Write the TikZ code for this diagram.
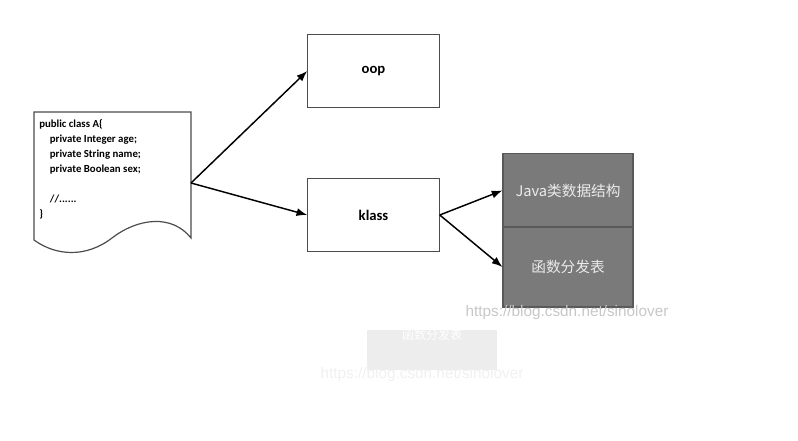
\documentclass[tikz,border=0pt]{standalone}
\usepackage{fontspec}
\setmainfont{Carlito}
\newfontfamily\cjkfont{Noto Sans CJK SC}
\newfontfamily\markfont{Liberation Sans}
\usetikzlibrary{arrows, arrows.meta}
\usetikzlibrary{calc}

\begin{document}
\begin{tikzpicture}[x=0.75pt, y=-0.75pt,
    box/.style={draw=black!70, line width=0.9pt, fill=white, minimum width=98.5pt, minimum height=55pt, inner sep=0pt, font=\fontsize{11}{13}\selectfont\bfseries},
    datatable/.style={draw=black!65, fill=black!52, line width=0.9pt, minimum width=97.5pt, inner sep=0pt, text=black!8, font=\cjkfont\fontsize{11}{13}\selectfont},
    link/.style={-{Latex[length=8pt, width=6pt]}, line width=1.1pt},
    watermark/.style={text=black!22, font=\markfont\fontsize{11.5}{13}\selectfont, inner sep=0pt}]
    \useasboundingbox (0,0) rectangle (798,441);

    % source code sheet
    \draw[black!70, line width=0.9pt, fill=white] (34,112) -- (191,112) -- (191,238)
        .. controls (172,214) and (138,218) .. (112,238)
        .. controls (86,258) and (56,256) .. (34,240) -- cycle;
    \node[anchor=north west, align=left, inner sep=0pt, font=\fontsize{8.1}{11.3}\selectfont\bfseries] (code) at (39,119)
        {public class A\{\\
        \hspace*{8pt}private Integer age;\\
        \hspace*{8pt}private String name;\\
        \hspace*{8pt}private Boolean sex;\\[11.3pt]
        \hspace*{8pt}//......\\
        \}};
    \coordinate (sheet) at (191,183);

    % oop / klass
    \node[box] (oop) at (373.5,71) {oop};
    \node[box] (klass) at (373.5,215) {klass};

    % klass contents
    \node[datatable, minimum height=55pt] (data) at (568,190.5) {Java类数据结构};
    \node[datatable, minimum height=60pt] (vtable) at (568,267) {函数分发表};

    \draw[link] (sheet) -- (oop.west);
    \draw[link] (sheet) -- (klass.west);
    \draw[link] (klass.east) -- (data.west);
    \draw[link] (klass.east) -- (vtable.west);

    % watermark and its faded copy
    \node[watermark] (url) at (567,313) {https://blog.csdn.net/sinolover};
    \node[fill=black!7, minimum width=97.5pt, minimum height=30pt, inner sep=0pt] (ghost) at (432,350) {};
    \node[text=white, font=\cjkfont\fontsize{9}{11}\selectfont, inner sep=0pt] (ghosttext) at (432,335) {函数分发表};
    \node[watermark, text=black!6] (ghosturl) at (422,375) {https://blog.csdn.net/sinolover};
\end{tikzpicture}
\end{document}
